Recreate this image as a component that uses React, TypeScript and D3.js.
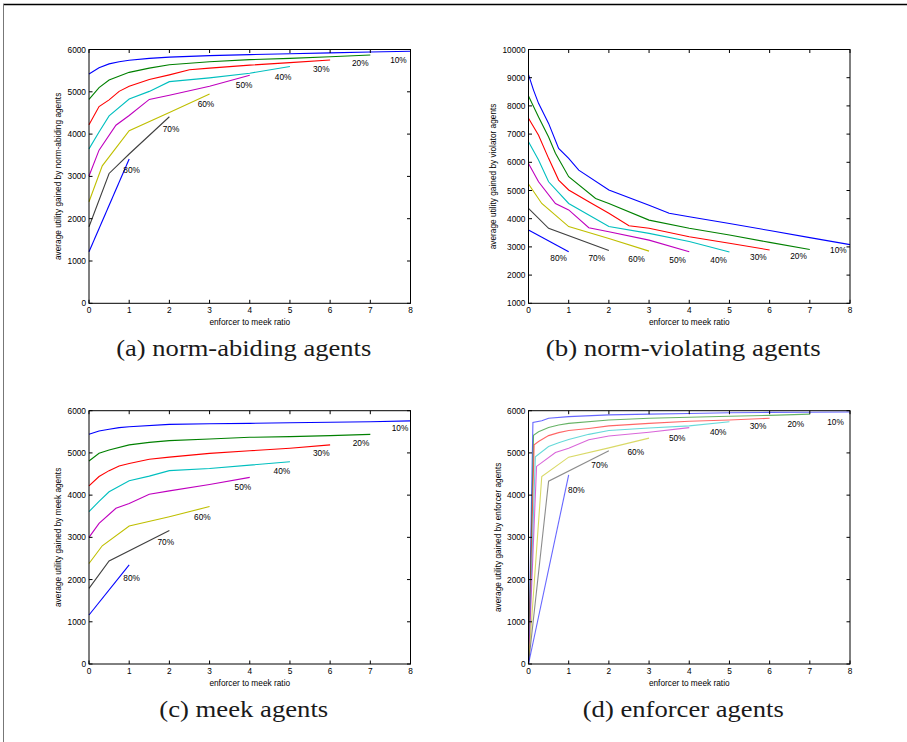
import React from 'react'
import * as d3 from 'd3'

// share of norm violators in the population, one line per value
const percentLabels = ['10%', '20%', '30%', '40%', '50%', '60%', '70%', '80%']
const xTicks = [0, 1, 2, 3, 4, 5, 6, 7, 8]

// (a) utility of norm-abiding agents, [ratio, utility]
const abidingSeries = [
  [[0, 5420], [0.25, 5570], [0.5, 5660], [0.75, 5710], [1, 5745], [1.5, 5790], [2, 5820], [3, 5855], [4, 5880], [5, 5900], [6, 5920], [7, 5940], [8, 5960]],
  [[0, 4820], [0.25, 5100], [0.5, 5280], [1, 5460], [1.5, 5560], [2, 5640], [3, 5710], [4, 5760], [5, 5790], [6, 5830], [7, 5870]],
  [[0, 4220], [0.25, 4650], [0.5, 4810], [0.75, 5010], [1, 5130], [1.5, 5290], [2, 5400], [2.5, 5520], [3, 5560], [4, 5630], [5, 5690], [6, 5750]],
  [[0, 3650], [0.25, 4050], [0.5, 4430], [1, 4830], [1.5, 5010], [2, 5240], [3, 5330], [4, 5440], [5, 5600]],
  [[0, 3010], [0.25, 3620], [0.67, 4210], [1, 4440], [1.5, 4820], [2, 4920], [3, 5130], [4, 5390]],
  [[0, 2400], [0.33, 3250], [1, 4080], [2, 4510], [3, 4950]],
  [[0, 1810], [0.5, 3070], [1, 3530], [2, 4410]],
  [[0, 1220], [1, 3410]],
]
const abidingLabelAt = [[7.7, 5740], [6.75, 5670], [5.78, 5550], [4.83, 5360], [3.86, 5150], [2.91, 4720], [2.04, 4130], [1.06, 3160]]

// (b) utility of norm-violating agents
const violatingSeries = [
  [[0, 9110], [0.125, 8560], [0.25, 8090], [0.5, 7380], [0.75, 6490], [1, 6140], [1.25, 5720], [2, 5020], [3, 4480], [3.5, 4190], [4, 4070], [5, 3830], [6, 3580], [7, 3330], [8, 3080]],
  [[0, 8350], [0.25, 7610], [0.5, 6900], [0.67, 6320], [1, 5490], [1.67, 4720], [2, 4540], [3, 3950], [4, 3660], [5, 3420], [6, 3160], [7, 2910]],
  [[0, 7560], [0.25, 6960], [0.5, 6140], [0.75, 5370], [1, 5020], [1.5, 4600], [2, 4190], [2.5, 3750], [3, 3660], [4, 3360], [5, 3130], [6, 2890]],
  [[0, 6730], [0.25, 6080], [0.5, 5310], [1, 4540], [1.5, 4130], [2, 3720], [3, 3480], [4, 3190], [5, 2820]],
  [[0, 5960], [0.25, 5310], [0.67, 4540], [1, 4310], [1.5, 3680], [2, 3540], [3, 3240], [4, 2830]],
  [[0, 5230], [0.33, 4540], [1, 3720], [2, 3300], [3, 2850]],
  [[0, 4370], [0.5, 3660], [2, 2870]],
  [[0, 3600], [1, 2830]],
]
const violatingLabelAt = [[7.71, 2890], [6.72, 2680], [5.72, 2630], [4.73, 2535], [3.71, 2535], [2.69, 2560], [1.7, 2595], [0.75, 2595]]

// (c) utility of meek agents
const meekSeries = [
  [[0, 5440], [0.25, 5520], [0.5, 5560], [0.75, 5600], [1, 5620], [2, 5675], [3, 5690], [4, 5700], [5, 5715], [6, 5725], [7, 5740], [8, 5760]],
  [[0, 4810], [0.25, 4990], [0.5, 5070], [1, 5190], [1.5, 5250], [2, 5290], [3, 5330], [4, 5370], [5, 5385], [6, 5410], [7, 5440]],
  [[0, 4220], [0.25, 4440], [0.5, 4580], [0.75, 4690], [1, 4750], [1.5, 4850], [2, 4900], [3, 4990], [4, 5050], [5, 5110], [6, 5190]],
  [[0, 3610], [0.25, 3850], [0.5, 4080], [1, 4340], [1.5, 4450], [2, 4580], [3, 4630], [4, 4710], [5, 4790]],
  [[0, 3000], [0.25, 3330], [0.67, 3690], [1, 3800], [1.5, 4020], [2, 4100], [3, 4250], [4, 4420]],
  [[0, 2380], [0.33, 2800], [1, 3270], [2, 3490], [3, 3730]],
  [[0, 1790], [0.5, 2440], [2, 3160]],
  [[0, 1160], [1, 2350]],
]
const meekLabelAt = [[7.74, 5580], [6.77, 5240], [5.78, 4990], [4.8, 4570], [3.83, 4185], [2.82, 3475], [1.91, 2900], [1.06, 2030]]

// (d) utility of enforcer agents
const enforcerSeries = [
  [[0, 0], [0.11, 5720], [0.33, 5760], [0.5, 5820], [1, 5860], [2, 5900], [3, 5920], [4, 5935], [5, 5950], [6, 5960], [7, 5965], [8, 5970]],
  [[0, 0], [0.125, 5420], [0.25, 5500], [0.5, 5600], [0.75, 5660], [1, 5700], [2, 5780], [3, 5820], [4, 5845], [5, 5870], [6, 5890], [7, 5920]],
  [[0, 0], [0.14, 5190], [0.25, 5270], [0.5, 5410], [0.75, 5480], [1, 5530], [1.5, 5580], [2, 5640], [3, 5700], [4, 5750], [5, 5780], [6, 5820]],
  [[0, 0], [0.17, 4910], [0.5, 5150], [0.75, 5240], [1, 5320], [1.5, 5440], [2, 5530], [3, 5590], [4, 5640], [5, 5740]],
  [[0, 0], [0.2, 4680], [0.67, 5010], [1, 5110], [1.5, 5310], [2, 5400], [3, 5490], [4, 5600]],
  [[0, 0], [0.33, 4440], [1, 4900], [2, 5120], [3, 5350]],
  [[0, 0], [0.5, 4330], [2, 5050]],
  [[0, 0], [1, 4480]],
]
const enforcerLabelAt = [[7.64, 5740], [6.65, 5685], [5.71, 5637], [4.72, 5503], [3.7, 5361], [2.67, 5030], [1.77, 4715], [1.19, 4123]]

// matlab default line order
const lineColors = ['#0000ff', '#008000', '#ff0000', '#00bfbf', '#bf00bf', '#bfbf00', '#404040', '#0000ff']

const colLeft = [89, 528.5]
const colRight = [410.5, 850]
const rowTop = [49.5, 410.7]
const rowBottom = [303.3, 664]

const panels = [
  { series: abidingSeries, labelAt: abidingLabelAt, yMin: 0, yMax: 6000, yLabel: 'average utility gained by norm-abiding agents', caption: '(a) norm-abiding agents', capW: 255, col: 0, row: 0, fade: 1 },
  { series: violatingSeries, labelAt: violatingLabelAt, yMin: 1000, yMax: 10000, yLabel: 'average utility gained by violator agents', caption: '(b) norm-violating agents', capW: 275, col: 1, row: 0, fade: 1 },
  { series: meekSeries, labelAt: meekLabelAt, yMin: 0, yMax: 6000, yLabel: 'average utility gained by meek agents', caption: '(c) meek agents', capW: 169, col: 0, row: 1, fade: 1 },
  { series: enforcerSeries, labelAt: enforcerLabelAt, yMin: 0, yMax: 6000, yLabel: 'average utility gained by enforcer agents', caption: '(d) enforcer agents', capW: 201, col: 1, row: 1, fade: 0.6 },
]

const tickFont = '"Liberation Sans", Arial, sans-serif'

function Panel({ p }) {
  const left = colLeft[p.col]
  const right = colRight[p.col]
  const top = rowTop[p.row]
  const bottom = rowBottom[p.row]
  const x = d3.scaleLinear().domain([0, 8]).range([left, right])
  const y = d3.scaleLinear().domain([p.yMin, p.yMax]).range([bottom, top])
  const yTicks = d3.range(p.yMin, p.yMax + 1, 1000)
  const line = d3.line().x(d => x(d[0])).y(d => y(d[1]))
  const tl = 3.5
  const yLabelX = p.yMax > 9999 ? left - 32.5 : left - 28
  return (
    <g>
      <rect x={left} y={top} width={right - left} height={bottom - top} fill="#fff" stroke="none" />
      {p.series.map((s, i) => (
        <path key={i} d={line(s)} fill="none" stroke={lineColors[i]} strokeWidth={1.1} strokeOpacity={p.fade} />
      ))}
      <rect x={left} y={top} width={right - left} height={bottom - top} fill="none" stroke="#000" strokeWidth={1} />
      {xTicks.map(t => (
        <g key={'x' + t}>
          <line x1={x(t)} x2={x(t)} y1={bottom} y2={bottom - tl} stroke="#000" />
          <line x1={x(t)} x2={x(t)} y1={top} y2={top + tl} stroke="#000" />
          <text x={x(t)} y={bottom + 9.5} textAnchor="middle" fontSize={8.3} fontFamily={tickFont}>{t}</text>
        </g>
      ))}
      {yTicks.map(t => (
        <g key={'y' + t}>
          <line x1={left} x2={left + tl} y1={y(t)} y2={y(t)} stroke="#000" />
          <line x1={right} x2={right - tl} y1={y(t)} y2={y(t)} stroke="#000" />
          <text x={left - 3} y={y(t) + 3} textAnchor="end" fontSize={8.3} fontFamily={tickFont}>{t}</text>
        </g>
      ))}
      {p.labelAt.map((d, i) => (
        <text key={'l' + i} x={x(d[0])} y={y(d[1]) + 3} textAnchor="middle" fontSize={8.3} fontFamily={tickFont}>
          {percentLabels[i]}
        </text>
      ))}
      <text x={(left + right) / 2} y={bottom + 21.5} textAnchor="middle" fontSize={8.3} fontFamily={tickFont}>
        enforcer to meek ratio
      </text>
      <text
        transform={`translate(${yLabelX},${(top + bottom) / 2}) rotate(-90)`}
        textAnchor="middle"
        fontSize={8.3}
        fontFamily={tickFont}
      >
        {p.yLabel}
      </text>
      <text
        x={(left + right) / 2 - 6}
        y={bottom + 53}
        textAnchor="middle"
        fontSize={22.5}
        fill="#1a1a1a"
        fontFamily='"Liberation Serif", "DejaVu Serif", serif'
        textLength={p.capW}
        lengthAdjust="spacingAndGlyphs"
      >
        {p.caption}
      </text>
    </g>
  )
}

export default function App() {
  return (
    <svg width={907} height={742} style={{ position: 'absolute', left: 0, top: 0, background: '#fff' }}>
      <line x1={3} x2={907} y1={4.5} y2={4.5} stroke="#000" strokeWidth={1.5} />
      <line x1={3.5} x2={3.5} y1={4} y2={742} stroke="#777" strokeWidth={1} />
      {panels.map((p, i) => (
        <Panel key={i} p={p} />
      ))}
    </svg>
  )
}
